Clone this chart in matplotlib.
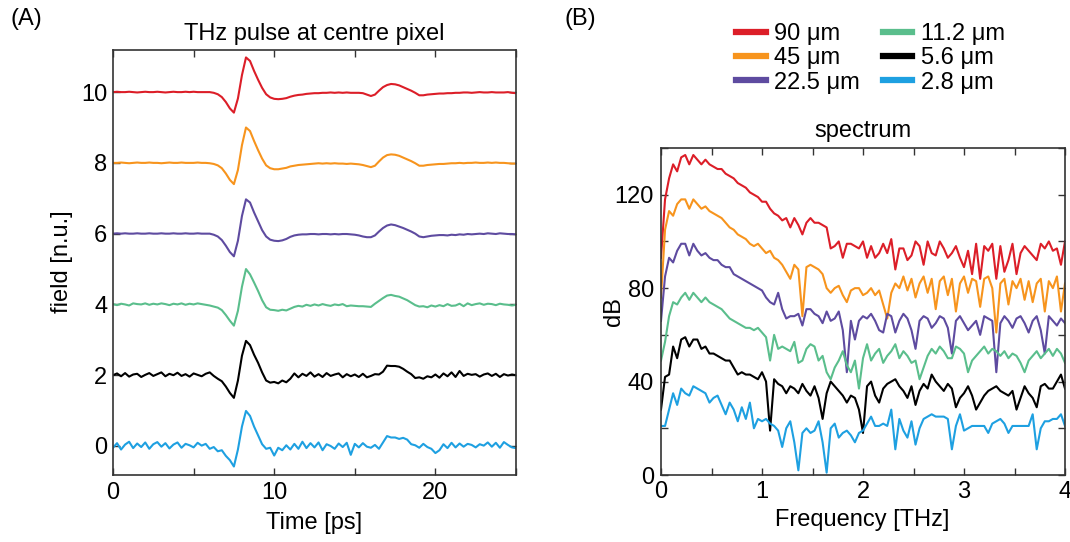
import numpy as np
import matplotlib
matplotlib.use("Agg")
import matplotlib.pyplot as plt
from matplotlib.ticker import MultipleLocator, FuncFormatter

plt.rcParams['font.family'] = ['Liberation Sans', 'DejaVu Sans']

labels = ["90 μm", "45 μm", "22.5 μm", "11.2 μm", "5.6 μm", "2.8 μm"]
colors = ["#DC1E28", "#F7941D", "#5E4BA0", "#5ABE8C", "#000000", "#1EA0E1"]
offsets = [10, 8, 6, 4, 2, 0]

time_step = 0.25  # ps
freq_step = 0.04  # THz

# ---- time traces (relative to offset), t = 0 .. 25 ps ----
pulse_90 = [
    0.00, 0.01, 0.00, 0.00, 0.01, 0.00, -0.01, 0.00, 0.01, 0.00,
    0.00, 0.01, 0.00, -0.01, 0.00, 0.01, 0.00, 0.00, 0.01, 0.00,
    0.01, 0.00, 0.00, 0.00, 0.00, -0.02, -0.06, -0.14, -0.28, -0.46,
    -0.58, -0.18, 0.48, 0.98, 0.88, 0.60, 0.35, 0.12, -0.06, -0.15,
    -0.19, -0.20, -0.19, -0.17, -0.13, -0.10, -0.08, -0.07, -0.05, -0.04,
    -0.03, -0.03, -0.02, -0.02, -0.01, -0.02, -0.01, -0.02, -0.01, -0.02,
    -0.02, -0.02, -0.03, -0.07, -0.11, -0.07, 0.04, 0.14, 0.20, 0.23,
    0.22, 0.19, 0.14, 0.09, 0.04, -0.02, -0.09, -0.09, -0.07, -0.06,
    -0.05, -0.04, -0.04, -0.03, -0.03, -0.02, -0.02, -0.01, -0.01, -0.02,
    -0.01, 0.00, -0.01, -0.01, 0.00, -0.01, -0.01, -0.01, 0.00, -0.02,
    -0.03]
pulse_45 = [
    0.00, 0.00, 0.01, 0.00, -0.01, 0.00, 0.01, 0.00, 0.00, 0.01,
    0.00, 0.00, -0.01, 0.00, 0.01, 0.00, 0.00, 0.01, 0.00, 0.00,
    0.00, 0.01, 0.00, 0.00, -0.01, -0.03, -0.07, -0.15, -0.30, -0.48,
    -0.60, -0.20, 0.50, 1.00, 0.90, 0.62, 0.36, 0.12, -0.07, -0.15,
    -0.18, -0.18, -0.16, -0.14, -0.10, -0.08, -0.06, -0.05, -0.04, -0.03,
    -0.02, -0.01, -0.02, -0.01, -0.02, -0.01, -0.02, -0.02, -0.03, -0.02,
    -0.03, -0.04, -0.06, -0.09, -0.12, -0.08, 0.04, 0.15, 0.22, 0.24,
    0.23, 0.20, 0.15, 0.10, 0.05, -0.01, -0.08, -0.08, -0.06, -0.05,
    -0.04, -0.03, -0.03, -0.02, -0.01, -0.01, 0.00, -0.01, 0.00, 0.00,
    0.01, 0.00, 0.00, 0.01, 0.00, 0.01, 0.00, 0.00, -0.01, -0.02,
    -0.02]
pulse_22 = [
    0.00, 0.01, 0.00, 0.01, 0.00, 0.00, 0.01, 0.00, 0.00, 0.01,
    0.00, 0.00, 0.01, 0.00, 0.00, 0.01, 0.00, 0.00, 0.01, 0.00,
    0.00, 0.01, 0.00, 0.00, 0.00, -0.03, -0.08, -0.18, -0.34, -0.52,
    -0.64, -0.20, 0.50, 0.97, 0.88, 0.60, 0.35, 0.10, -0.08, -0.17,
    -0.20, -0.21, -0.19, -0.15, -0.09, -0.05, -0.03, -0.02, -0.02, -0.01,
    -0.01, -0.02, -0.01, -0.01, -0.02, -0.01, -0.02, -0.01, -0.01, -0.02,
    -0.03, -0.05, -0.08, -0.10, -0.10, -0.05, 0.06, 0.16, 0.23, 0.26,
    0.24, 0.20, 0.16, 0.11, 0.06, 0.00, -0.08, -0.10, -0.08, -0.06,
    -0.05, -0.04, -0.04, -0.05, -0.03, -0.04, -0.02, -0.03, -0.01, -0.02,
    -0.01, 0.00, -0.01, 0.01, 0.00, -0.01, 0.01, 0.00, -0.01, -0.01,
    -0.02]
pulse_11 = [
    0.01, -0.02, 0.02, 0.00, -0.03, 0.03, 0.01, 0.00, 0.03, -0.01,
    0.02, 0.00, 0.03, 0.01, -0.02, 0.02, 0.00, 0.03, -0.01, 0.02,
    0.00, 0.03, 0.01, -0.01, -0.03, -0.06, -0.09, -0.16, -0.30, -0.46,
    -0.60, -0.18, 0.50, 1.00, 0.85, 0.62, 0.38, 0.12, -0.08, -0.15,
    -0.16, -0.18, -0.15, -0.17, -0.12, -0.07, -0.04, -0.06, -0.01, -0.04,
    0.00, -0.03, 0.01, -0.02, -0.04, 0.00, -0.02, 0.01, -0.05, -0.03,
    -0.04, -0.05, -0.05, -0.06, -0.07, 0.02, 0.10, 0.18, 0.25, 0.27,
    0.24, 0.22, 0.17, 0.12, 0.05, -0.02, -0.06, -0.05, -0.08, -0.03,
    -0.06, -0.02, -0.05, 0.01, -0.04, -0.03, 0.02, -0.05, 0.03, -0.02,
    0.01, 0.03, -0.01, 0.02, 0.01, -0.02, 0.02, 0.00, -0.01, -0.03,
    -0.01]
pulse_5 = [
    0.00, 0.05, -0.03, 0.06, -0.04, 0.02, 0.04, -0.05, 0.01, 0.06,
    -0.02, 0.03, 0.08, -0.03, 0.04, 0.00, 0.07, -0.02, 0.03, -0.04,
    0.05, 0.01, -0.03, 0.04, 0.08, -0.02, -0.10, -0.17, -0.32, -0.50,
    -0.64, -0.15, 0.55, 0.97, 0.85, 0.58, 0.35, 0.08, -0.15, -0.21,
    -0.19, -0.23, -0.15, -0.20, -0.10, 0.05, -0.06, 0.04, -0.02, 0.08,
    -0.04, 0.03, -0.05, 0.06, -0.02, 0.02, 0.05, -0.06, 0.03, -0.03,
    0.02, -0.05, 0.04, -0.06, -0.02, 0.03, 0.02, 0.10, 0.27, 0.26,
    0.26, 0.24, 0.18, 0.10, 0.03, -0.08, -0.06, -0.10, -0.03, -0.06,
    0.02, -0.07, 0.05, -0.03, 0.08, -0.05, 0.12, -0.02, 0.04, 0.01,
    0.03, -0.04, 0.02, 0.05, -0.02, 0.04, -0.05, 0.03, -0.01, 0.02,
    0.00]
pulse_2 = [
    -0.05, 0.08, -0.10, 0.04, 0.12, -0.06, 0.07, -0.03, 0.10, -0.08,
    0.05, 0.11, -0.02, 0.08, -0.07, 0.04, 0.10, -0.05, 0.06, 0.02,
    -0.04, 0.09, 0.01, 0.06, -0.08, -0.03, -0.15, -0.12, -0.28, -0.40,
    -0.58, -0.10, 0.55, 0.99, 0.85, 0.55, 0.30, 0.05, -0.08, -0.05,
    -0.27, -0.05, -0.12, 0.02, -0.10, 0.06, -0.08, 0.12, -0.06, 0.08,
    -0.04, 0.10, -0.12, 0.05, 0.00, -0.08, 0.07, -0.03, 0.09, -0.25,
    0.06, -0.04, 0.08, -0.02, -0.05, 0.03, -0.08, 0.10, 0.28, 0.24,
    0.24, 0.20, 0.23, 0.18, 0.05, 0.02, -0.05, 0.06, -0.03, -0.08,
    -0.20, -0.12, 0.05, -0.06, 0.09, -0.04, 0.07, -0.02, 0.06, 0.03,
    -0.04, 0.05, 0.01, 0.10, -0.02, 0.09, -0.05, 0.11, 0.03, -0.04,
    -0.06]

# ---- spectra in dB, f = 0 .. 4 THz ----
spec_90 = [
    93, 118, 127, 133, 130, 136, 137, 133, 137, 135,
    133, 135, 133, 132, 131, 131, 129, 128, 127, 125,
    124, 123, 121, 120, 119, 117, 117, 114, 112, 111,
    109, 110, 106, 110, 107, 103, 108, 110, 108, 108,
    107, 106, 97, 98, 100, 93, 99, 99, 98, 97,
    100, 93, 98, 93, 95, 99, 95, 101, 88, 97,
    97, 92, 94, 100, 98, 90, 100, 95, 94, 100,
    97, 93, 95, 98, 93, 89, 96, 86, 99, 84,
    98, 96, 99, 84, 98, 87, 92, 99, 86, 95,
    98, 96, 94, 92, 99, 97, 100, 96, 97, 90,
    100]
spec_45 = [
    76, 105, 113, 111, 116, 118, 118, 114, 118, 116,
    114, 115, 113, 112, 111, 110, 108, 106, 105, 103,
    102, 101, 99, 98, 99, 97, 95, 96, 93, 92,
    90, 87, 84, 90, 88, 68, 89, 90, 89, 88,
    86, 80, 78, 80, 81, 77, 74, 79, 80, 80,
    77, 78, 80, 77, 79, 73, 67, 78, 82, 80,
    85, 79, 84, 76, 82, 85, 78, 84, 71, 83,
    85, 77, 84, 70, 82, 85, 78, 84, 83, 72,
    84, 85, 80, 61, 82, 84, 73, 83, 80, 84,
    75, 83, 74, 82, 84, 70, 83, 80, 85, 70,
    82]
spec_22 = [
    66, 85, 93, 91, 96, 99, 99, 94, 99, 96,
    94, 95, 93, 92, 92, 90, 89, 89, 86, 85,
    84, 83, 82, 81, 80, 79, 76, 74, 73, 78,
    71, 67, 68, 68, 69, 64, 71, 71, 69, 68,
    65, 70, 66, 67, 70, 62, 44, 66, 58, 66,
    68, 67, 69, 66, 62, 61, 69, 68, 61, 66,
    69, 67, 62, 54, 66, 68, 67, 63, 65, 68,
    67, 63, 52, 66, 68, 65, 62, 64, 66, 60,
    68, 67, 66, 44, 65, 68, 66, 63, 67, 68,
    65, 61, 66, 68, 62, 52, 68, 66, 64, 67,
    65]
spec_11 = [
    49, 57, 68, 74, 73, 76, 78, 75, 78, 76,
    74, 76, 74, 73, 72, 71, 69, 67, 66, 65,
    64, 63, 63, 62, 63, 61, 59, 49, 60, 54,
    55, 54, 53, 57, 48, 49, 54, 56, 55, 49,
    51, 44, 41, 46, 49, 53, 47, 44, 49, 37,
    50, 56, 49, 52, 54, 48, 51, 53, 56, 50,
    53, 51, 48, 49, 41, 46, 51, 54, 52, 55,
    53, 50, 50, 55, 54, 52, 44, 49, 51, 53,
    55, 52, 54, 53, 51, 53, 50, 52, 51, 48,
    44, 49, 51, 53, 50, 52, 54, 51, 54, 52,
    48]
spec_5 = [
    28, 42, 43, 55, 50, 58, 59, 55, 58, 58,
    54, 55, 52, 52, 51, 50, 49, 49, 46, 43,
    44, 43, 43, 42, 41, 44, 40, 19, 41, 39,
    38, 35, 38, 37, 35, 39, 36, 34, 38, 33,
    24, 35, 40, 38, 36, 34, 31, 34, 33, 28,
    18, 38, 40, 34, 31, 37, 39, 40, 41, 38,
    36, 33, 38, 30, 36, 39, 37, 43, 40, 38,
    36, 39, 37, 29, 33, 35, 38, 34, 28, 31,
    34, 36, 37, 38, 36, 35, 34, 36, 28, 33,
    38, 35, 33, 29, 38, 39, 37, 37, 40, 43,
    37]
spec_2 = [
    21, 21, 28, 35, 30, 37, 35, 34, 38, 37,
    36, 35, 31, 33, 34, 30, 26, 31, 28, 23,
    29, 24, 31, 20, 24, 23, 24, 22, 21, 19,
    12, 20, 23, 14, 2, 18, 20, 18, 19, 23,
    14, 1, 20, 22, 16, 18, 19, 17, 14, 18,
    19, 22, 25, 21, 21, 22, 21, 28, 11, 24,
    19, 16, 23, 13, 20, 24, 25, 26, 25, 25,
    25, 24, 11, 21, 26, 19, 20, 21, 21, 21,
    21, 18, 22, 23, 24, 22, 18, 21, 21, 21,
    21, 21, 26, 11, 20, 23, 23, 24, 24, 26,
    21]

pulses = [pulse_90, pulse_45, pulse_22, pulse_11, pulse_5, pulse_2]
spectra = [spec_90, spec_45, spec_22, spec_11, spec_5, spec_2]

W, H = 1070, 542
fig = plt.figure(figsize=(W / 100, H / 100), dpi=100)

def frac(x0, y0, x1, y1):
    return [x0 / W, 1 - y1 / H, (x1 - x0) / W, (y1 - y0) / H]

def fx(px):
    return px / W

def fy(py):
    return 1 - py / H

spine_c = "#333333"
FS = 17

def style(ax):
    for s in ax.spines.values():
        s.set_color(spine_c)
        s.set_linewidth(1.2)
    ax.tick_params(which="both", direction="in", top=True, right=True,
                   length=5, width=1.0, color=spine_c, labelsize=FS)

def place_labels(ax, xl, xpos, yl, ypos):
    ax.set_xlabel(xl, fontsize=FS, va="center", ha="center")
    ax.xaxis.set_label_coords(fx(xpos[0]), fy(xpos[1]), transform=fig.transFigure)
    ax.set_ylabel(yl, fontsize=FS, va="center", ha="center")
    ax.yaxis.set_label_coords(fx(ypos[0]), fy(ypos[1]), transform=fig.transFigure)

# ---- Panel A ----
axA = fig.add_axes(frac(113, 50, 516, 475))
for vals, off, c in zip(pulses, offsets, colors):
    v = np.asarray(vals)
    t = np.arange(len(v)) * time_step
    axA.plot(t, v + off, color=c, lw=1.5)
axA.set_xlim(0, 25)
axA.set_ylim(-0.82, 11.19)
axA.xaxis.set_major_locator(MultipleLocator(5))
axA.xaxis.set_major_formatter(FuncFormatter(lambda x, p: f"{int(round(x))}" if round(x) % 10 == 0 else ""))
axA.set_yticks(offsets)
style(axA)
axA.tick_params(axis="x", pad=5)
axA.tick_params(axis="y", pad=4)
axA.set_title("THz pulse at centre pixel", fontsize=FS, pad=7)
place_labels(axA, "Time [ps]", (314, 523), "field [n.u.]", (62, 262))

# ---- Panel B ----
axB = fig.add_axes(frac(661, 148, 1065, 475))
handles = []
for vals, c, lab in zip(spectra, colors, labels):
    v = np.asarray(vals)
    f = np.arange(len(v)) * freq_step
    h, = axB.plot(f, v, color=c, lw=1.5, label=lab)
    handles.append(h)
axB.set_xlim(0, 4)
axB.set_ylim(0, 140)
axB.xaxis.set_major_locator(MultipleLocator(0.5))
axB.xaxis.set_major_formatter(FuncFormatter(lambda x, p: f"{int(round(x))}" if abs(x - round(x)) < 1e-6 else ""))
axB.yaxis.set_major_locator(MultipleLocator(20))
axB.yaxis.set_major_formatter(FuncFormatter(lambda y, p: f"{int(round(y))}" if int(round(y)) % 40 == 0 else ""))
style(axB)
axB.tick_params(axis="x", pad=4)
axB.tick_params(axis="y", pad=5)
axB.set_title("spectrum", fontsize=FS, pad=8)
place_labels(axB, "Frequency [THz]", (862, 520), "dB", (614, 312))

leg = fig.legend(handles=handles, labels=labels, ncol=2, frameon=False,
                 fontsize=FS, loc="upper left", bbox_to_anchor=(fx(736), fy(23)),
                 handlelength=1.25, handletextpad=0.38, columnspacing=0.95,
                 labelspacing=0.1, borderaxespad=0, borderpad=0)
for lh in leg.get_lines():
    lh.set_linewidth(4.5)

fig.text(fx(10), fy(19), "(A)", fontsize=FS, va="center", ha="left")
fig.text(fx(565), fy(19), "(B)", fontsize=FS, va="center", ha="left")

fig.savefig("out.png", dpi=100)
